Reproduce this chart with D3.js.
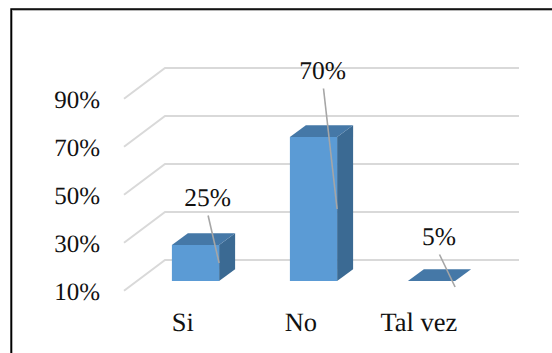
<!DOCTYPE html>
<html><head><meta charset="utf-8">
<script src="https://cdn.jsdelivr.net/npm/d3@7"></script>
<style>html,body{margin:0;padding:0;background:#fff}svg{display:block}text{font-family:"Liberation Serif",serif;fill:#111;font-size:25px;text-rendering:geometricPrecision}</style>
</head><body><script>
const categories = ["Si", "No", "Tal vez"];
const values = [25, 70, 5];
const tickValues = [10, 30, 50, 70, 90];

const W = 552, H = 353;
const svg = d3.select("body").append("svg").attr("width", W).attr("height", H);
const y = d3.scaleLinear().domain([10, 90]).range([290.7, 98.7]);
const x = d3.scaleBand().domain(categories).range([136.5, 490.5]).paddingInner(0.6).paddingOuter(0.3);
const wallX = 124, wallDX = 41, wallDY = 30.7, wallW = 354;
const dX = 16, dY = 11.8, floorShift = 9.7;

// frame
svg.append("path").attr("d", `M11.3,353V9.2H${W}`).attr("fill", "none").attr("stroke", "#000").attr("stroke-width", 2);
svg.append("line").attr("x1", 12).attr("x2", W).attr("y1", 10.4).attr("y2", 10.4).attr("stroke", "#b5b5b5").attr("stroke-width", 1);

// gridlines
svg.append("g").selectAll("path").data(tickValues).join("path")
  .attr("d", d => `M${wallX},${y(d)}L${wallX + wallDX},${y(d) - wallDY}H${wallX + wallDX + wallW}`)
  .attr("fill", "none").attr("stroke", "#d9d9d9").attr("stroke-width", 2);

// y labels
svg.append("g").selectAll("text").data(tickValues).join("text")
  .attr("x", 100.2).attr("y", d => y(d) + 9.4).attr("text-anchor", "end").text(d => d + "%");

// x labels
svg.append("g").selectAll("text").data(categories).join("text")
  .attr("x", d => x(d) + x.bandwidth() / 2 - 12.6).attr("y", 331).attr("text-anchor", "middle")
  .style("font-size", "26.5px").text(d => d);

// bars
const base = y(10) - floorShift;
const topOf = v => y(Math.max(v, 10)) - floorShift;
const bars = svg.append("g").selectAll("g").data(categories).join("g");
bars.append("path").attr("fill", "#3b6a93")
  .attr("d", (c, i) => { const r = x(c) + x.bandwidth(), t = topOf(values[i]);
    return `M${r},${t}l${dX},${-dY}V${base - dY}L${r},${base}Z`; });
bars.append("rect").attr("fill", "#5b9bd5")
  .attr("x", c => x(c)).attr("width", x.bandwidth())
  .attr("y", (c, i) => topOf(values[i])).attr("height", (c, i) => base - topOf(values[i]));
bars.append("path").attr("fill", "#4578a7")
  .attr("d", (c, i) => { const l = x(c), t = topOf(values[i]);
    return `M${l},${t}l${dX},${-dY}h${x.bandwidth()}l${-dX},${dY}Z`; });

// leaders and data labels
const leaderFrom = [[-11, -47.5], [-13.6, -120.5], [-15.6, -32.5]];
const labelAt = [[-0.5, -10], [-1, -9.5], [-0.5, -9.5]];
const leaderEnd = (c, i) => [x(c) + x.bandwidth(), (y(values[i]) + y(10)) / 2 - floorShift];
const labels = svg.append("g").selectAll("g").data(categories).join("g");
labels.append("line").attr("stroke", "#a6a6a6").attr("stroke-width", 1.6)
  .attr("x2", (c, i) => leaderEnd(c, i)[0]).attr("y2", (c, i) => leaderEnd(c, i)[1])
  .attr("x1", (c, i) => leaderEnd(c, i)[0] + leaderFrom[i][0]).attr("y1", (c, i) => leaderEnd(c, i)[1] + leaderFrom[i][1]);
labels.append("text").attr("text-anchor", "middle")
  .attr("x", (c, i) => leaderEnd(c, i)[0] + leaderFrom[i][0] + labelAt[i][0])
  .attr("y", (c, i) => leaderEnd(c, i)[1] + leaderFrom[i][1] + labelAt[i][1])
  .style("font-size", "25.5px")
  .text((c, i) => values[i] + "%");
</script></body></html>
